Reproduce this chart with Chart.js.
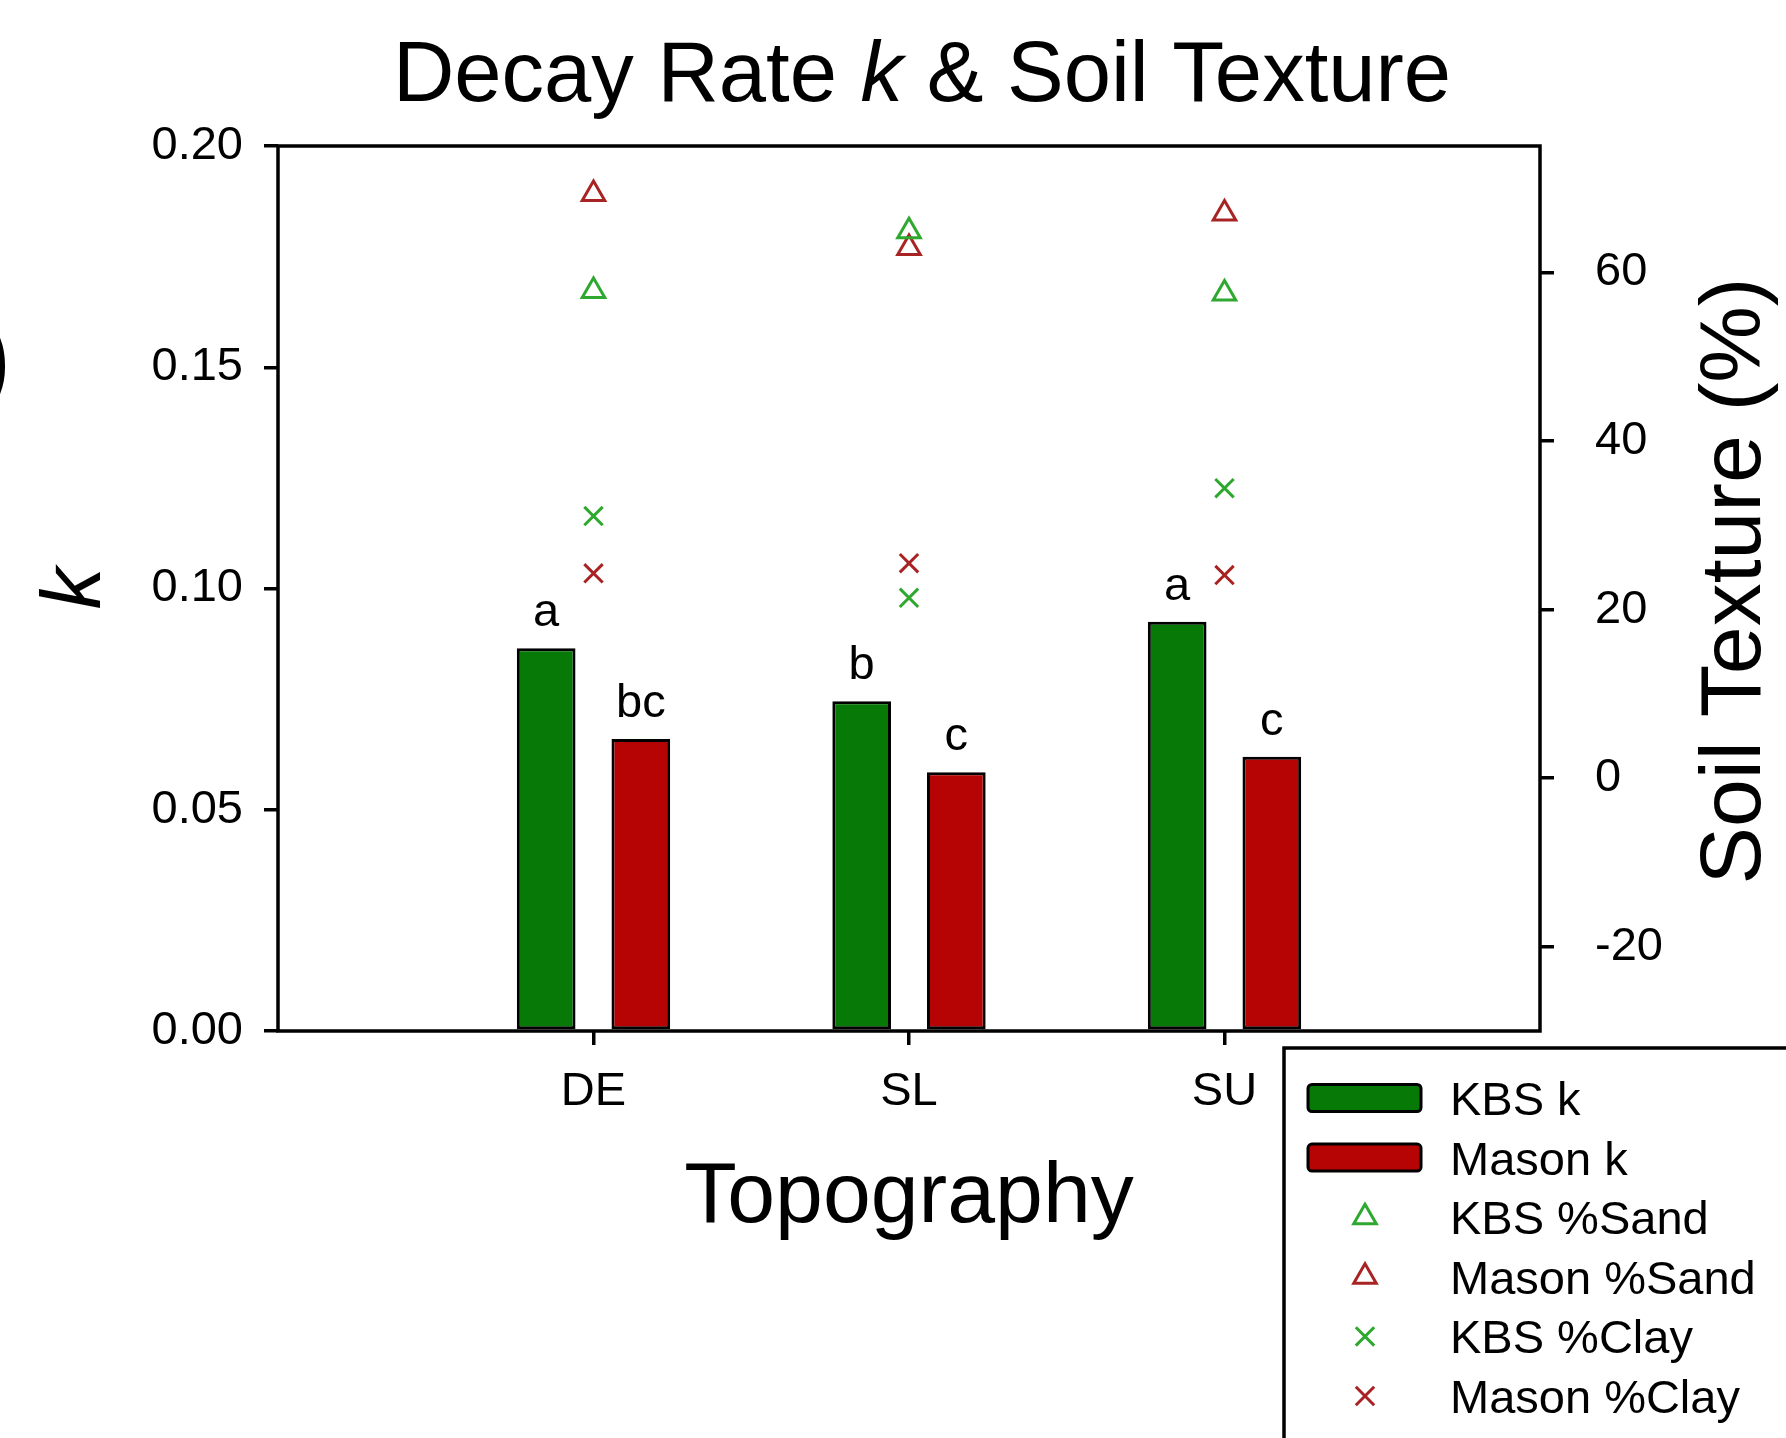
<!DOCTYPE html>
<html>
<head>
<meta charset="utf-8">
<title>Decay Rate k &amp; Soil Texture</title>
<script src="https://cdn.jsdelivr.net/npm/chart.js@4.4.0/dist/chart.umd.min.js"></script>
<style>
  html, body { margin: 0; padding: 0; background: #fff; }
  #ChartView { width: 1786px; height: 1438px; }
</style>
</head>
<body>
<div id="ChartView"><canvas id="myChart" width="1786" height="1438"></canvas></div>
<script>
// data
const categories = ["DE", "SL", "SU"];
const kbsK = [0.0865, 0.0745, 0.0925];
const masonK = [0.066, 0.0585, 0.062];
const kbsSand = [57.8, 64.9, 57.5];
const masonSand = [69.3, 62.9, 67.0];
const kbsClay = [31.1, 21.4, 34.4];
const masonClay = [24.3, 25.5, 24.1];
const kbsLetters = ["a", "b", "a"];
const masonLetters = ["bc", "c", "c"];
const kTicks = [0, 0.05, 0.10, 0.15, 0.20];
const textureTicks = [-20, 0, 20, 40, 60];

const FONT = "'Liberation Sans', Arial, sans-serif";
const GREEN_BAR = "#077907";
const RED_BAR = "#b60303";
const GREEN_PT = "#2ea82e";
const RED_PT = "#a82424";

const toXY = arr => arr.map((v, i) => ({ x: i + 1, y: v }));

function pointSet(label, values, color, style) {
    return {
        type: 'line',
        label: label,
        data: toXY(values),
        yAxisID: 'y2',
        showLine: false,
        pointStyle: style,
        pointRadius: 13,
        pointBorderWidth: 3,
        pointBorderColor: color,
        pointBackgroundColor: 'rgba(0,0,0,0)',
        borderColor: color,
        backgroundColor: 'rgba(0,0,0,0)'
    };
}

const decorPlugin = {
    id: 'decor',
    afterDatasetsDraw(chart) {
        const ctx = chart.ctx;
        const a = chart.chartArea;
        ctx.save();
        // frame
        ctx.strokeStyle = "#000";
        ctx.lineWidth = 3.5;
        ctx.strokeRect(a.left, a.top, a.right - a.left, a.bottom - a.top);
        // significance letters
        ctx.fillStyle = "#000";
        ctx.font = "47px " + FONT;
        ctx.textAlign = "center";
        ctx.textBaseline = "alphabetic";
        [[0, kbsLetters], [1, masonLetters]].forEach(([di, letters]) => {
            chart.getDatasetMeta(di).data.forEach((bar, i) => {
                ctx.fillText(letters[i], bar.x, bar.y - 22);
            });
        });
        ctx.restore();
    },
    afterDraw(chart) {
        const ctx = chart.ctx;
        ctx.save();
        ctx.fillStyle = "#000";
        ctx.textBaseline = "alphabetic";

        // main title with italic k
        const parts = [
            { t: "Decay Rate ", f: "85px " + FONT },
            { t: "k", f: "italic 85px " + FONT },
            { t: " & Soil Texture", f: "85px " + FONT }
        ];
        let total = 0;
        parts.forEach(p => { ctx.font = p.f; p.w = ctx.measureText(p.t).width; total += p.w; });
        let x = 922 - total / 2;
        ctx.textAlign = "left";
        parts.forEach(p => { ctx.font = p.f; ctx.fillText(p.t, x, 101); x += p.w; });

        // right axis title, reading bottom to top
        ctx.save();
        ctx.translate(1760, 581);
        ctx.rotate(-Math.PI / 2);
        ctx.font = "86px " + FONT;
        ctx.textAlign = "center";
        ctx.fillText("Soil Texture (%)", 0, 0);
        ctx.restore();

        // cropped panel label remnant at the left edge
        ctx.font = "110px " + FONT;
        ctx.textAlign = "right";
        ctx.fillText(")", 12, 394);

        // legend
        const lx = 1284, ly = 1048;
        ctx.lineWidth = 3.5;
        ctx.strokeStyle = "#000";
        ctx.strokeRect(lx, ly, 700, 600);
        ctx.font = "47px " + FONT;
        ctx.textAlign = "left";
        chart.data.datasets.forEach((ds, i) => {
            const base = 1115 + 59.6 * i;
            const cy = base - 17;
            if (ds.type === 'line') {
                ctx.fillStyle = 'rgba(0,0,0,0)';
                ctx.strokeStyle = ds.pointBorderColor;
                ctx.lineWidth = ds.pointBorderWidth;
                Chart.helpers.drawPoint(ctx, {
                    pointStyle: ds.pointStyle, rotation: 0,
                    radius: ds.pointRadius, borderWidth: ds.pointBorderWidth
                }, 1365, cy);
            } else {
                ctx.beginPath();
                ctx.roundRect(1308, cy - 13.5, 113, 27, 4);
                ctx.fillStyle = ds.backgroundColor;
                ctx.fill();
                ctx.lineWidth = 3;
                ctx.strokeStyle = "#000";
                ctx.stroke();
            }
            ctx.fillStyle = "#000";
            ctx.fillText(ds.label, 1450, base);
        });
        ctx.restore();
    }
};

Chart.defaults.font.family = FONT;
Chart.defaults.color = "#000";

new Chart(document.getElementById("myChart"), {
    type: 'bar',
    data: {
        datasets: [
            {
                label: 'KBS k',
                data: toXY(kbsK),
                yAxisID: 'y',
                backgroundColor: GREEN_BAR,
                borderColor: "#000",
                borderWidth: 3,
                borderSkipped: false,
                categoryPercentage: 0.6,
                barPercentage: 0.62
            },
            {
                label: 'Mason k',
                data: toXY(masonK),
                yAxisID: 'y',
                backgroundColor: RED_BAR,
                borderColor: "#000",
                borderWidth: 3,
                borderSkipped: false,
                categoryPercentage: 0.6,
                barPercentage: 0.62
            },
            pointSet('KBS %Sand', kbsSand, GREEN_PT, 'triangle'),
            pointSet('Mason %Sand', masonSand, RED_PT, 'triangle'),
            pointSet('KBS %Clay', kbsClay, GREEN_PT, 'crossRot'),
            pointSet('Mason %Clay', masonClay, RED_PT, 'crossRot')
        ]
    },
    options: {
        responsive: false,
        devicePixelRatio: 1,
        animation: false,
        layout: { padding: { top: 146, left: 0, right: 0, bottom: 0 } },
        plugins: {
            legend: { display: false },
            title: { display: false },
            tooltip: { enabled: false }
        },
        scales: {
            x: {
                type: 'linear',
                min: 0,
                max: 4,
                offset: false,
                afterBuildTicks: axis => { axis.ticks = categories.map((c, i) => ({ value: i + 1 })); },
                afterFit: axis => { axis.height = 407; },
                grid: { offset: false, drawOnChartArea: false, drawTicks: true, tickLength: 14, lineWidth: 3.5, color: "#000" },
                border: { display: false },
                ticks: {
                    padding: 19,
                    font: { size: 47 },
                    maxRotation: 0,
                    autoSkip: false,
                    callback: value => categories[value - 1]
                },
                title: {
                    display: true,
                    text: 'Topography',
                    font: { size: 86 },
                    padding: { top: 0, bottom: 188 }
                }
            },
            y: {
                position: 'left',
                min: 0,
                max: 0.2,
                afterBuildTicks: axis => { axis.ticks = kTicks.map(v => ({ value: v })); },
                afterFit: axis => { axis.width = 278; },
                grid: { drawOnChartArea: false, drawTicks: true, tickLength: 14, lineWidth: 3.5, color: "#000" },
                border: { display: false },
                ticks: {
                    padding: 21,
                    font: { size: 47 },
                    callback: value => Number(value).toFixed(2)
                },
                title: {
                    display: true,
                    text: 'k',
                    font: { size: 84, style: 'italic' },
                    padding: { top: 26, bottom: 0 }
                }
            },
            y2: {
                position: 'right',
                min: -30,
                max: 75,
                afterBuildTicks: axis => { axis.ticks = textureTicks.map(v => ({ value: v })); },
                afterFit: axis => { axis.width = 246; },
                grid: { drawOnChartArea: false, drawTicks: true, tickLength: 14, lineWidth: 3.5, color: "#000" },
                border: { display: false },
                ticks: {
                    padding: 41,
                    font: { size: 47 }
                }
            }
        }
    },
    plugins: [decorPlugin]
});
</script>
</body>
</html>
